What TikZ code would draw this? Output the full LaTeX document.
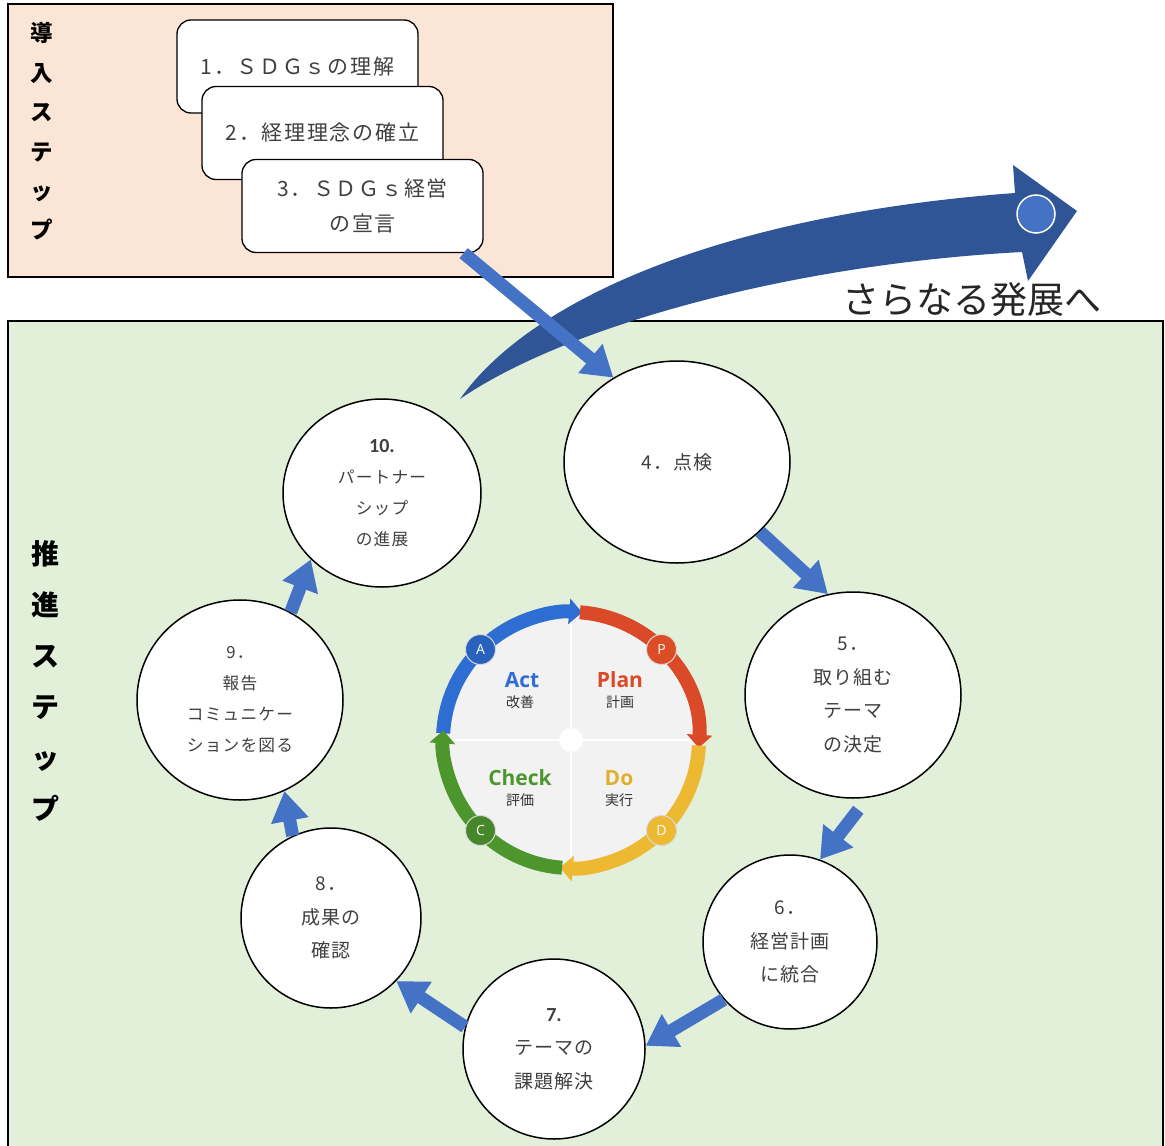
\documentclass[tikz,border=0pt]{standalone}
\usepackage{fontspec}
\setmainfont{Noto Sans CJK JP}
\newfontfamily\jp[LetterSpace=7]{Noto Sans CJK JP}
\newfontfamily\jpbox[LetterSpace=8]{Noto Sans CJK JP}
\newfontfamily\jpn{Noto Sans CJK JP}
\newfontfamily\latf{Open Sans}
\newfontfamily\calf{Carlito}
\usetikzlibrary{shapes.geometric,arrows.meta}
\definecolor{peach}{HTML}{FBE5D6}
\definecolor{lgreen}{HTML}{E2F0D9}
\definecolor{abl}{HTML}{4472C4}
\definecolor{dbl}{HTML}{2F5597}
\definecolor{txt}{HTML}{404040}
\definecolor{pblue}{HTML}{2E6DD2}
\definecolor{pred}{HTML}{DA4A28}
\definecolor{pyel}{HTML}{EDB832}
\definecolor{pgrn}{HTML}{4D962E}
\definecolor{pgray}{HTML}{F2F2F2}
\tikzset{
  panel/.style={draw=black, line width=1.5pt, inner sep=0pt},
  stepbox/.style={draw=black, line width=1.3pt, fill=white, rounded corners=14pt,
    minimum width=241pt, minimum height=93pt, inner sep=0pt, align=center, text=txt,
    font=\jpbox\fontsize{21}{35}\selectfont},
  circ/.style={ellipse, draw=black, line width=1.5pt, fill=white, inner sep=0pt,
    align=center, text=txt, font=\jp\fontsize{19}{33.5}\selectfont},
  smallcirc/.style={circ, font=\jp\fontsize{16.7}{31}\selectfont},
  flow/.style={abl, line width=13pt, -{Triangle[width=36pt,length=30pt]}},
  ring/.style={line width=14pt, -{Triangle[width=25pt,length=13pt]}},
  pdot/.style={circle, minimum size=30pt, inner sep=0pt, draw=white!70!gray, line width=1pt,
    text=white, font=\latf\fontsize{14}{14}\selectfont},
  pword/.style={font=\latf\bfseries\fontsize{21}{21}\selectfont},
  pjp/.style={font=\jpn\fontsize{14}{14}\selectfont, text=black!80},
  sidelabel/.style={align=center, text=black}
}
\begin{document}
\begin{tikzpicture}[x=1pt,y=-1pt]
\useasboundingbox (0,0) rectangle (1165,1146);
\fill[white] (0,0) rectangle (1165,1146);
% panels
\node[panel, fill=lgreen, minimum width=1155pt, minimum height=829pt] (promo) at (585.5,735.5) {};
\node[panel, fill=peach, minimum width=605pt, minimum height=273pt] (intro) at (310.5,140.5) {};
\node[sidelabel, font=\jpn\bfseries\fontsize{22.5}{39.4}\selectfont] (introlbl) at (42,131.5) {導\\入\\ス\\テ\\ッ\\プ};
\node[sidelabel, font=\jpn\bfseries\fontsize{28}{51}\selectfont] (promolbl) at (45,680.5) {推\\進\\ス\\テ\\ッ\\プ};
% intro boxes
\node[stepbox] (box1) at (297.5,66.5) {1．ＳＤＧｓの理解};
\node[stepbox] (box2) at (322.5,133) {2．経理理念の確立};
\node[stepbox] (box3) at (362.5,206) {3．ＳＤＧｓ経営\\の宣言};
% big arrow
\fill[dbl] (460,399) .. controls (530,300) and (720,215) .. (1015,193)
  -- (1013,165) -- (1077,211) -- (1028,281) -- (1022,252)
  .. controls (780,265) and (560,330) .. (460,399) -- cycle;
\node[circle, fill=abl, draw=white, line width=1.5pt, minimum size=38pt, inner sep=0pt] (dot) at (1036,214) {};
\node[font=\jpn\fontsize{37}{37}\selectfont, text=black!85] (further) at (972,300) {さらなる発展へ};
% PDCA
\begin{scope}[shift={(571,740)}, y=1pt]
  \fill[pgray] (0,0) circle[radius=130];
  \draw[white, line width=2pt] (-128,0) -- (128,0) (0,-128) -- (0,128);
  \fill[white] (0,0) circle[radius=12];
  \draw[ring, pblue] (177:128) arc[start angle=177, end angle=85, radius=128];
  \draw[ring, pred] (86:128) arc[start angle=86, end angle=-3.5, radius=128];
  \draw[ring, pyel] (-2.5:128) arc[start angle=-2.5, end angle=-95, radius=128];
  \draw[ring, pgrn] (-94:128) arc[start angle=-94, end angle=-184.3, radius=128];
  \node[pdot, fill=pblue!90!black] (pa) at (135:128) {A};
  \node[pdot, fill=pred!95!orange] (pp) at (45:128) {P};
  \node[pdot, fill=pyel] (pd) at (-45:128) {D};
  \node[pdot, fill=pgrn!90!black] (pc) at (-135:128) {C};
  \node[pword, text=pblue] (act) at (-49,60) {Act};
  \node[pjp] (actj) at (-51,38) {改善};
  \node[pword, text=pred] (plan) at (49,60) {Plan};
  \node[pjp] (planj) at (49,38) {計画};
  \node[pword, text=pgrn] (check) at (-51,-38) {Check};
  \node[pjp] (checkj) at (-51,-60) {評価};
  \node[pword, text=pyel!95!black] (do) at (48,-38) {Do};
  \node[pjp] (doj) at (48,-60) {実行};
\end{scope}
% circles
\node[circ, minimum width=226pt, minimum height=202pt] (c4) at (677,462) {4．点検};
\node[circ, minimum width=216pt, minimum height=206pt] (c5) at (853,695) {5．\\取り組む\\テーマ\\の決定};
\node[circ, minimum width=174pt, minimum height=174pt] (c6) at (790,942) {6．\\経営計画\\に統合};
\node[circ, minimum width=182pt, minimum height=180pt] (c7) at (554,1049) {{\calf\bfseries\fontsize{20}{20}\selectfont 7.}\\テーマの\\課題解決};
\node[circ, minimum width=180pt, minimum height=180pt] (c8) at (331,918) {8．\\成果の\\確認};
\node[smallcirc, minimum width=206pt, minimum height=200pt] (c9) at (240,700) {9．\\報告\\コミュニケー\\ションを図る};
\node[smallcirc, minimum width=198pt, minimum height=188pt] (c10) at (382,493) {{\calf\bfseries\fontsize{20}{20}\selectfont 10.}\\パートナー\\シップ\\の進展};
% flow arrows
\draw[flow] (box3.-25) -- (c4.127);
\draw[flow] (c4.-40) -- (c5.104);
\draw[flow, shorten <=15pt] (c5.-82) -- (c6.70);
\draw[flow] (c6.-139) -- (c7.2);
\draw[flow] (c7.166) -- (c8.-44);
\draw[flow] (c8.115) -- (c9.-64);
\draw[flow] (c9.60) -- (c10.-137);
\end{tikzpicture}
\end{document}
